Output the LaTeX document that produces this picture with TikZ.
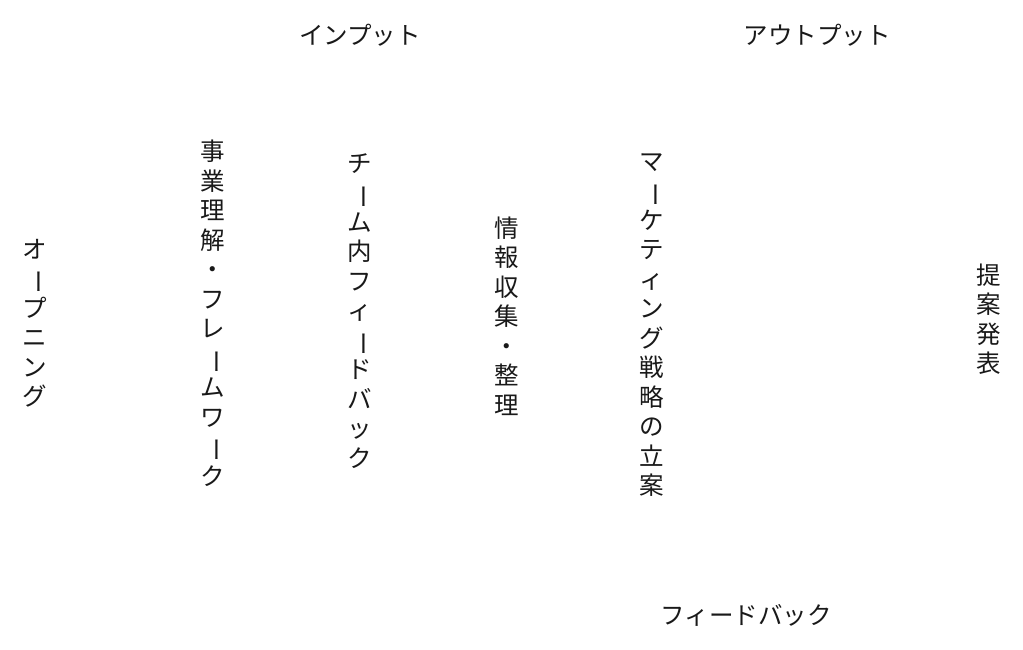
\documentclass[tikz,border=0pt]{standalone}
\usepackage{fontspec}
\usepackage{graphicx}
\newfontfamily\jpfont{Noto Sans CJK JP}
\newcommand{\vbar}{\rotatebox[origin=c]{-90}{ー}}
\tikzset{
  lbl/.style={font=\jpfont\fontsize{24.5}{29.5}\selectfont, inner sep=0pt, text=black!90},
  vlbl/.style={lbl, align=center}
}
\begin{document}
\begin{tikzpicture}[x=1pt,y=-1pt]
\useasboundingbox[fill=white] (0,0) rectangle (1023,649);
\node[lbl] (input) at (360,35) {インプット};
\node[lbl] (output) at (817,35) {アウトプット};
\node[vlbl] (opening) at (35,323) {オ\\\vbar\\プ\\ニ\\ン\\グ};
\node[vlbl] (jigyo) at (213,313) {事\\業\\理\\解\\・\\フ\\レ\\\vbar\\ム\\ワ\\\vbar\\ク};
\node[vlbl] (team) at (360,311) {チ\\\vbar\\ム\\内\\フ\\ィ\\\vbar\\ド\\バ\\ッ\\ク};
\node[vlbl] (joho) at (507,316) {情\\報\\収\\集\\・\\整\\理};
\node[vlbl] (marketing) at (652,325) {マ\\\vbar\\ケ\\テ\\ィ\\ン\\グ\\戦\\略\\の\\立\\案};
\node[vlbl] (teian) at (989,319) {提\\案\\発\\表};
\node[lbl] (feedback) at (746,615) {フィードバック};
\end{tikzpicture}
\end{document}
